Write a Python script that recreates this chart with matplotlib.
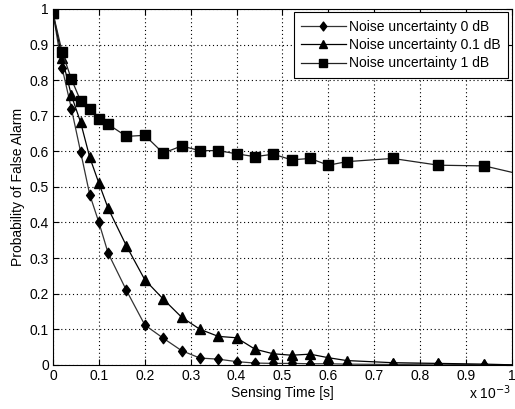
import matplotlib
matplotlib.use("Agg")
import matplotlib.pyplot as plt
from matplotlib.path import Path

plt.rcParams['font.family'] = ['Liberation Sans', 'DejaVu Sans']
plt.rcParams['font.size'] = 10

# sensing time, in units of 1e-3 s
sensing_time = [0, 0.02, 0.04, 0.06, 0.08, 0.10, 0.12, 0.16, 0.20, 0.24, 0.28, 0.32,
                0.36, 0.40, 0.44, 0.48, 0.52, 0.56, 0.60, 0.64, 0.74, 0.84, 0.94, 1.00]

pfa_0db = [0.988, 0.833, 0.720, 0.599, 0.478, 0.400, 0.314, 0.209, 0.112, 0.075, 0.040, 0.019,
           0.016, 0.009, 0.005, 0.004, 0.004, 0.003, 0.003, 0.002, 0.001, 0.002, 0.000, 0.000]
pfa_01db = [0.988, 0.861, 0.757, 0.682, 0.583, 0.510, 0.440, 0.334, 0.239, 0.185, 0.134, 0.100,
            0.080, 0.076, 0.044, 0.031, 0.027, 0.030, 0.020, 0.012, 0.006, 0.004, 0.002, 0.000]
pfa_1db = [0.988, 0.878, 0.803, 0.742, 0.718, 0.691, 0.676, 0.642, 0.645, 0.595, 0.615, 0.602,
           0.602, 0.593, 0.585, 0.592, 0.576, 0.580, 0.561, 0.571, 0.580, 0.561, 0.559, 0.541]

labels = ['Noise uncertainty 0 dB', 'Noise uncertainty 0.1 dB', 'Noise uncertainty 1 dB']

# diamond a bit wider than matplotlib's thin 'd'
diamond = Path([(0, 1), (0.75, 0), (0, -1), (-0.75, 0), (0, 1)],
               [Path.MOVETO, Path.LINETO, Path.LINETO, Path.LINETO, Path.CLOSEPOLY])

fig = plt.figure(figsize=(5.15, 4.09), dpi=100)
ax = fig.add_axes([0.103, 0.108, 0.891, 0.870])

marks = list(range(len(sensing_time) - 1))
ax.plot(sensing_time, pfa_0db, '-', color='#333333', lw=0.9, marker=diamond, ms=7.5,
        mfc='black', mec='black', markevery=marks, label=labels[0])
ax.plot(sensing_time, pfa_01db, '-', color='black', lw=0.9, marker='^', ms=7,
        mfc='black', mec='black', markevery=marks, label=labels[1])
ax.plot(sensing_time, pfa_1db, '-', color='#222222', lw=0.9, marker='s', ms=6.5,
        mfc='black', mec='black', markevery=marks, label=labels[2])

ax.set_xlim(0, 1)
ax.set_ylim(0, 1)
ax.set_xticks([i / 10 for i in range(11)])
ax.set_yticks([i / 10 for i in range(11)])
ax.set_xticklabels(['0', '0.1', '0.2', '0.3', '0.4', '0.5', '0.6', '0.7', '0.8', '0.9', '1'])
ax.set_yticklabels(['0', '0.1', '0.2', '0.3', '0.4', '0.5', '0.6', '0.7', '0.8', '0.9', '1'])
ax.tick_params(direction='in', top=True, right=True, length=4, width=0.8, pad=3)
ax.grid(True, linestyle=(0, (1, 2.5)), color='black', linewidth=0.8)
for s in ax.spines.values():
    s.set_linewidth(0.8)

ax.set_xlabel('Sensing Time [s]', labelpad=2)
ax.set_ylabel('Probability of False Alarm', labelpad=3)
fig.text(0.952, 0.018, r'x 10$^{-3}$', ha='center', va='bottom', fontsize=10)

leg = ax.legend(loc='upper right', fancybox=False, framealpha=1, edgecolor='black',
                handlelength=3.2, borderaxespad=0.25, handletextpad=0.25,
                labelspacing=0.3, borderpad=0.55, markerscale=0.85)
leg.get_frame().set_linewidth(0.8)

fig.savefig('out.png', dpi=100)
